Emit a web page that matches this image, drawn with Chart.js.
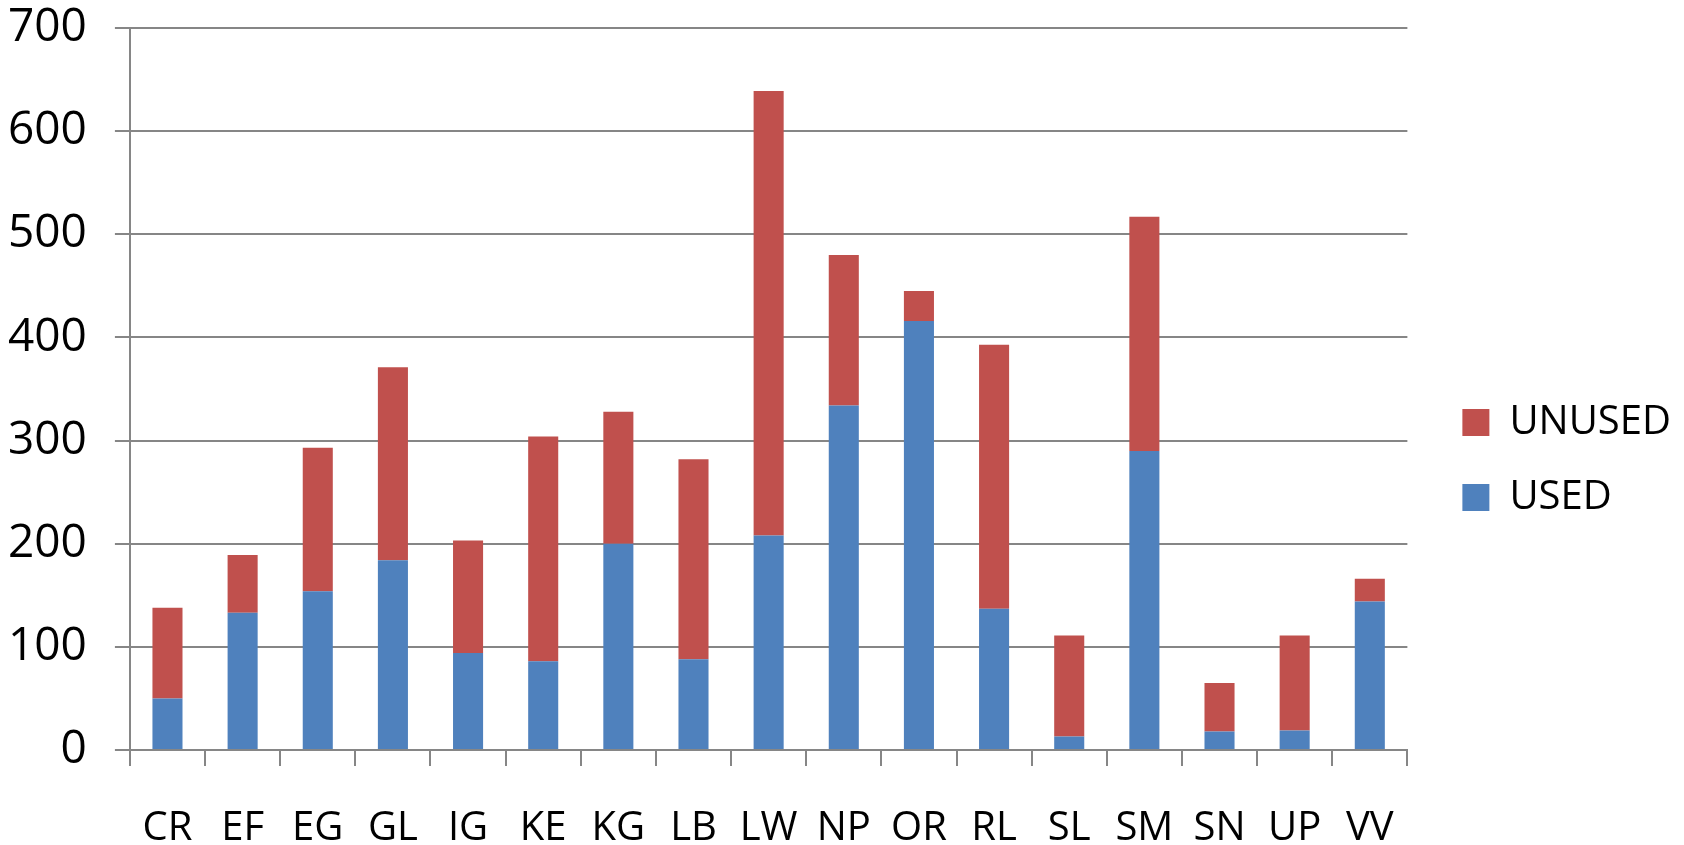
<!DOCTYPE html>
<html>
<head>
<meta charset="utf-8">
<script src="https://cdn.jsdelivr.net/npm/chart.js@4.4.1/dist/chart.umd.min.js"></script>
<style>
  html, body { margin: 0; padding: 0; background: #fff; }
  #wrap { width: 1684px; height: 845px; }
</style>
</head>
<body>
<div id="wrap"><canvas id="chart"></canvas></div>
<script>
// values
const categories = ["CR", "EF", "EG", "GL", "IG", "KE", "KG", "LB", "LW", "NP", "OR", "RL", "SL", "SM", "SN", "UP", "VV"];
const usedData   = [50, 133, 154, 184, 94, 86, 200, 88, 208, 334, 416, 137, 13, 290, 18, 19, 144];
const unusedData = [88, 56, 139, 187, 109, 218, 128, 194, 431, 146, 29, 256, 98, 227, 47, 92, 22];
const yTicks     = [0, 100, 200, 300, 400, 500, 600, 700];

const BLUE = "#4F81BD";
const RED  = "#C0504D";
const GRID = "#868686";
const FONT = "'Open Sans', sans-serif";

// nudge the legend a little to the right of the plot, like the original
const legendShift = {
  id: "legendShift",
  afterLayout(chart) {
    const lg = chart.legend;
    if (!lg) return;
    lg.left  += 20;
    lg.right += 20;
  }
};

new Chart(document.getElementById("chart"), {
  type: "bar",
  data: {
    labels: categories,
    datasets: [
      { label: "USED",   data: usedData,   backgroundColor: BLUE, borderWidth: 0 },
      { label: "UNUSED", data: unusedData, backgroundColor: RED,  borderWidth: 0 }
    ]
  },
  plugins: [legendShift],
  options: {
    responsive: true,
    maintainAspectRatio: false,
    devicePixelRatio: 1,
    animation: false,
    datasets: { bar: { barPercentage: 1, categoryPercentage: 0.4 } },
    layout: { padding: { left: -20, top: 28, right: 23, bottom: -47 } },
    plugins: {
      tooltip: { enabled: false },
      legend: {
        position: "right",
        reverse: true,
        labels: {
          boxWidth: 27,
          boxHeight: 27,
          padding: 35,
          color: "#000",
          font: { family: FONT, size: 40 }
        }
      }
    },
    scales: {
      x: {
        stacked: true,
        grid: {
          offset: true,
          drawOnChartArea: false,
          color: GRID,
          lineWidth: 2,
          tickLength: 16
        },
        border: { color: GRID, width: 2 },
        ticks: { color: "#000", padding: 39, maxRotation: 0, font: { family: FONT, size: 40 } }
      },
      y: {
        stacked: true,
        min: 0,
        max: 700,
        afterBuildTicks: axis => { axis.ticks = yTicks.map(v => ({ value: v })); },
        // labels may hang over the plot edges, no extra room needed
        afterFit: axis => { axis.paddingTop = 0; axis.paddingBottom = 0; },
        grid: { color: GRID, lineWidth: 2, tickLength: 15 },
        border: { color: GRID, width: 2 },
        ticks: { color: "#000", padding: 28, font: { family: FONT, size: 46 } }
      }
    }
  }
});
</script>
</body>
</html>
